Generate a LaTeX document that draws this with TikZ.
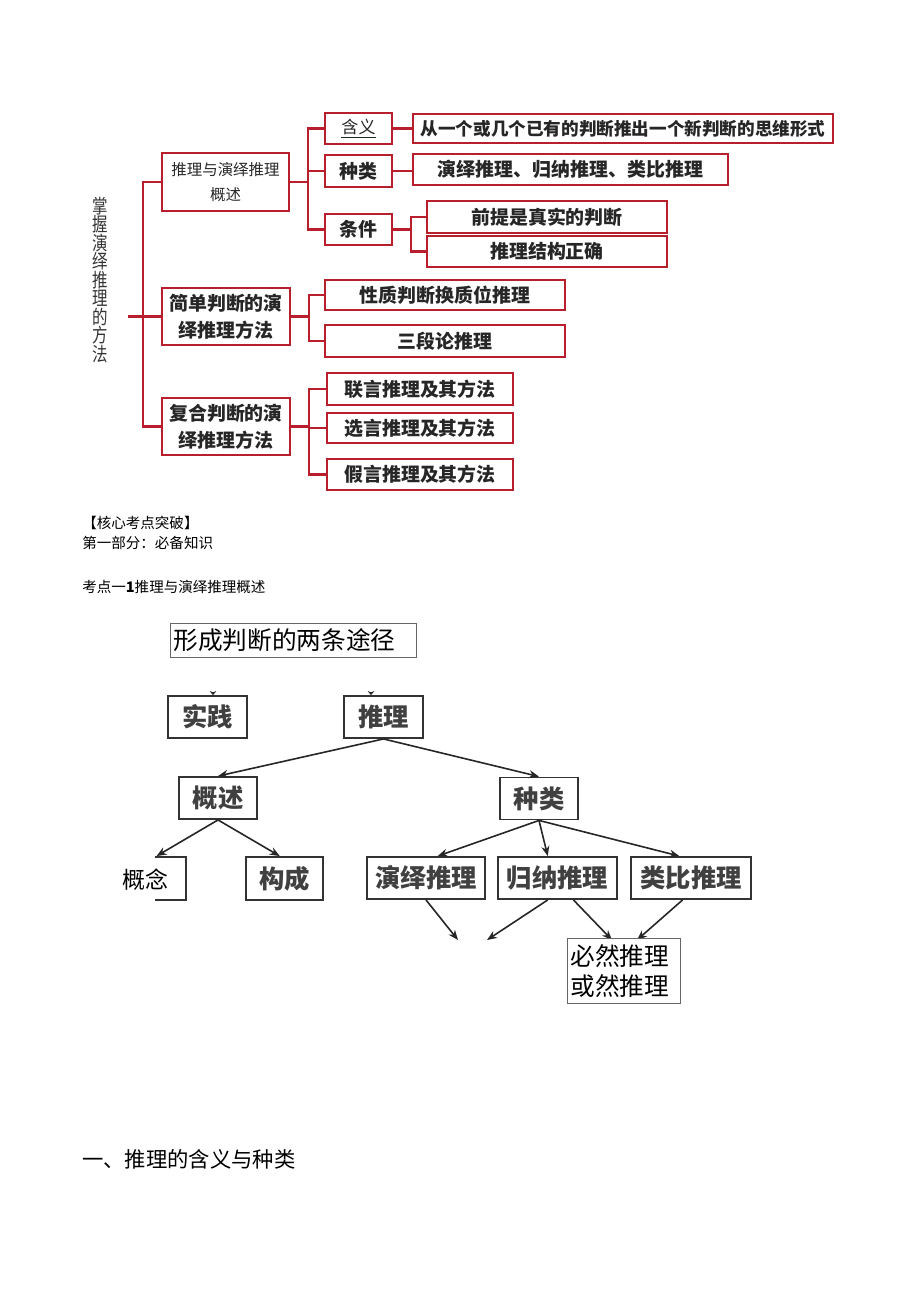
\documentclass[tikz,border=0pt]{standalone}
\usepackage{fontspec}
\setmainfont{Noto Sans CJK SC}
\usepackage{tikz}
\usetikzlibrary{arrows.meta}
\newdimen\px \px=0.75pt
\definecolor{mapred}{RGB}{185,30,45}

\begin{document}
\begin{tikzpicture}[x=1\px,y=-1\px,>={Stealth[length=7.5pt,width=6pt]},
    redbox/.style={rectangle,draw=mapred,line width=2pt,inner sep=0pt,align=center,font=\bfseries\fontsize{14.2}{20}\selectfont,text=black!85},
    redline/.style={draw=mapred,line width=1.6pt},
    treebox/.style={rectangle,draw=black!80,line width=1.4pt,fill=white,inner sep=0pt,minimum height=42\px,font=\bfseries\fontsize{19}{22}\selectfont,text=black!75},
    thinbox/.style={rectangle,draw=black!60,line width=0.6pt,fill=white,inner sep=3\px,align=left,font=\fontsize{18.5}{22.5}\selectfont},
    treearrow/.style={->,line width=1.2pt,draw=black!85}]
    \useasboundingbox (0,0) rectangle (920,1301);

    \node[inner sep=0pt,text=black!80,font=\fontsize{14.5}{13.9}\selectfont] (mainlbl) at (100,280) {\scalebox{0.8}[1]{\parbox{1.2em}{\centering\lineskiplimit=-20pt 掌\\握\\演\\绎\\推\\理\\的\\方\\法}}};
    \node[redbox,minimum width=127\px,minimum height=58\px,font=\fontsize{11.6}{18.75}\selectfont] (overview) at (225.5,182) {推理与演绎推理\\概述};
    \node[redbox,minimum width=128\px,minimum height=57\px] (simple) at (226,316.5) {简单判断的演\\绎推理方法};
    \node[redbox,minimum width=128\px,minimum height=57\px] (compound) at (226,426.5) {复合判断的演\\绎推理方法};
    \node[redbox,minimum width=67\px,minimum height=31\px,font=\fontsize{12.8}{15}\selectfont] (meaning) at (358.5,128.5) {\underline{含义}};
    \node[redbox,minimum width=67\px,minimum height=32\px] (kind) at (358.5,171) {种类};
    \node[redbox,minimum width=67\px,minimum height=31\px] (cond) at (358.5,229.5) {条件};
    \node[redbox,minimum width=420\px,minimum height=29\px,font=\bfseries\fontsize{13.2}{15}\selectfont] (meaningtxt) at (623,128.5) {从一个或几个已有的判断推出一个新判断的思维形式};
    \node[redbox,minimum width=315\px,minimum height=31\px] (kindtxt) at (570.5,169.5) {演绎推理、归纳推理、类比推理};
    \node[redbox,minimum width=240\px,minimum height=32\px] (cond1) at (547,217) {前提是真实的判断};
    \node[redbox,minimum width=240\px,minimum height=31\px] (cond2) at (547,251.5) {推理结构正确};
    \node[redbox,minimum width=240\px,minimum height=30\px] (simple1) at (445,295) {性质判断换质位推理};
    \node[redbox,minimum width=240\px,minimum height=32\px] (simple2) at (445,341) {三段论推理};
    \node[redbox,minimum width=186\px,minimum height=32\px] (comp1) at (420,389) {联言推理及其方法};
    \node[redbox,minimum width=186\px,minimum height=30\px] (comp2) at (420,428) {选言推理及其方法};
    \node[redbox,minimum width=186\px,minimum height=31\px] (comp3) at (420,474.5) {假言推理及其方法};

    \coordinate (rootend) at (128,316.5);
    \coordinate (trunk) at (143,316.5);
    \draw[redline] (rootend) -- (simple.west);
    \draw[redline] (overview.west) -| (trunk) |- (compound.west);
    \draw[redline] (overview.east) -- ++(18,0) coordinate (ovjoint);
    \draw[redline] (meaning.west) -| (ovjoint) |- (cond.west);
    \draw[redline] (ovjoint |- kind.west) -- (kind.west);
    \draw[redline] (meaning.east) -- (meaningtxt.west);
    \draw[redline] (kind.east) -- (kind.east -| kindtxt.west);
    \draw[redline] (cond.east) -- ++(18,0) coordinate (cdjoint);
    \draw[redline] (cond1.west) -| (cdjoint) |- (cond2.west);
    \draw[redline] (simple.east) -- ++(18,0) coordinate (smjoint);
    \draw[redline] (simple1.west) -| (smjoint) |- (simple2.west);
    \draw[redline] (compound.east) -- ++(18,0) coordinate (cpjoint);
    \draw[redline] (comp1.west) -| (cpjoint) |- (comp3.west);
    \draw[redline] (cpjoint |- comp2.west) -- (comp2.west);

    \node[anchor=west,inner sep=0pt,font=\fontsize{10.9}{13}\selectfont] (core) at (82,523) {【核心考点突破】};
    \node[anchor=west,inner sep=0pt,font=\fontsize{10.9}{13}\selectfont] (part) at (82,543) {第一部分：必备知识};
    \node[anchor=west,inner sep=0pt,font=\fontsize{10.9}{13}\selectfont] (point) at (82,587) {考点一\textbf{1}推理与演绎推理概述};
    \node[anchor=west,inner sep=0pt,font=\fontsize{16}{19}\selectfont] (section) at (82,1159) {一、推理的含义与种类};

    \node[thinbox,anchor=north west,text width=240\px,minimum height=34\px] (ways) at (170,623) {形成判断的两条途径};
    \node[treebox,minimum width=79\px] (practice) at (207.5,717) {实践};
    \node[treebox,minimum width=79\px] (infer) at (383.5,717) {推理};
    \node[treebox,minimum width=78\px] (summary) at (218,798) {概述};
    \node[treebox,minimum width=78\px] (kinds) at (539,798.5) {种类};
    \node[treebox,minimum width=78\px,minimum height=43\px] (concept) at (147,878.5) {};
    \node[treebox,minimum width=77\px,minimum height=43\px] (structure) at (284.5,878.5) {构成};
    \node[treebox,minimum width=118\px] (deductive) at (426,878) {演绎推理};
    \node[treebox,minimum width=119\px] (inductive) at (557.5,878) {归纳推理};
    \node[treebox,minimum width=120\px] (analogy) at (691,878) {类比推理};
    \fill[white] (100,850) rectangle (155,906);
    \node[inner sep=0pt,font=\fontsize{17.2}{20}\selectfont] (conceptlbl) at (145,880) {概念};

    \coordinate (pstub) at (213,692);
    \coordinate (istub) at (371,692);
    \coordinate (d1) at (458,940);
    \coordinate (d2) at (487,940);
    \coordinate (d3) at (612,940);
    \coordinate (d4) at (637,940);
    \draw[treearrow,-{Stealth[length=3pt,width=5pt]}] (pstub) -- (pstub |- practice.north);
    \draw[treearrow,-{Stealth[length=3pt,width=5pt]}] (istub) -- (istub |- infer.north);
    \draw[treearrow] (infer.south) -- (summary.north);
    \draw[treearrow] (infer.south) -- (kinds.north);
    \draw[treearrow] (kinds.south) -- (deductive.62);
    \draw[treearrow] (kinds.south) -- (inductive.114);
    \draw[treearrow] (kinds.south) -- (analogy.118);
    \draw[treearrow] (summary.south) -- (concept.67);
    \draw[treearrow] (summary.south) -- (structure.102);
    \draw[treearrow] (deductive.south) -- (d1);
    \draw[treearrow] (inductive.246) -- (d2);
    \draw[treearrow] (inductive.306) -- (d3);
    \draw[treearrow] (analogy.249) -- (d4);
    \node[thinbox,anchor=north west,text width=107\px,minimum height=65\px] (modality) at (567,938) {必然推理\\或然推理};
\end{tikzpicture}
\end{document}
